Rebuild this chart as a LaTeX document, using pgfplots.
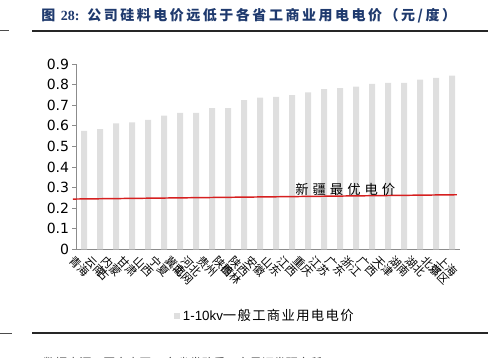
\documentclass[border=0pt]{standalone}
\usepackage{fontspec}
\setmainfont{Liberation Sans}
\newfontfamily\cjk{Noto Sans CJK SC}
\newfontfamily\cjksp{Noto Sans CJK SC}[LetterSpace=10]
\newfontfamily\cjkred{Noto Sans CJK SC}[LetterSpace=30]
\newfontfamily\cjkttl{Noto Sans CJK SC}[LetterSpace=18]
\newfontfamily\serifb{Liberation Serif}
\newfontfamily\dejavu{DejaVu Sans}
\usepackage{pgfplots}
\pgfplotsset{compat=1.18}
\definecolor{bargray}{HTML}{DFDFDF}
\definecolor{axgray}{HTML}{8C8C8C}
\definecolor{ttlblue}{HTML}{1F3A6E}
\definecolor{redline}{HTML}{D62020}
\begin{document}
\begin{tikzpicture}
\path[use as bounding box] (0,0) rectangle (366pt,267.75pt);
\clip (0,0) rectangle (366pt,267.75pt);
\begin{scope}[x=0.75pt,y=-0.75pt,yshift=267.75pt]
  % title
  \node[anchor=west,text=ttlblue,inner sep=0pt] at (41,16)
    {\cjkttl\fontsize{10.5}{12}\selectfont\bfseries 图 {\serifb\bfseries 28:} 公司硅料电价远低于各省工商业用电电价（元/度）};
  \draw[line width=1.5pt,black!85] (32,31) -- (488,31);
  \draw[line width=0.6pt,black!70] (0,30.5) -- (9,30.5);
  \draw[line width=1.5pt,black!85] (32,333) -- (488,333);
  \draw[line width=0.6pt,black!70] (0,333) -- (12,333);
  \node[anchor=north west,inner sep=0pt,text=black!75] at (43,357.5)
    {\cjk\fontsize{9}{11}\selectfont 数据来源：国家电网， 各省发改委，东吴证券研究所};
\end{scope}
\begin{axis}[
  at={(57pt,80.775pt)}, anchor=south west,
  scale only axis, width=288pt, height=139pt,
  xmin=0.5, xmax=24.5, ymin=0, ymax=0.9,
  clip=false,
  axis x line*=bottom, axis y line*=left,
  axis line style={axgray,line width=0.6pt,-},
  every tick/.style={axgray,line width=0.6pt},
  tick align=outside,
  ytick={0,0.1,0.2,0.3,0.4,0.5,0.6,0.7,0.8,0.9},
  yticklabel style={/pgf/number format/fixed,/pgf/number format/precision=1,font=\dejavu\fontsize{10.5}{12}\selectfont,inner sep=2pt},
  /pgf/number format/assume math mode=true,
  major tick length=3pt, minor tick length=3pt,
  xtick={1,...,24},
  x tick style={draw=none},
  minor xtick={0.5,1.5,...,24.5},
  xticklabels={青海,云南,内蒙\\古,甘肃,山西,宁夏,冀北,河北\\南网,贵州,陕西,陕西\\榆林,安徽,山东,江西,重庆,江苏,广东,浙江,广西,天津,湖南,湖北,北京,上海\\郊区},
  xticklabel style={rotate=-45,anchor=north west,align=center,font=\cjk\fontsize{8.5}{9}\selectfont,inner sep=0pt,xshift=-4pt,yshift=-5pt},
  legend style={at={(0.492,-0.36)},anchor=center,draw=none,fill=none,font=\cjksp\fontsize{10}{12}\selectfont,inner sep=0pt},
  legend image code/.code={\fill[#1] (0pt,-2.5pt) rectangle (5pt,2.5pt);},
  legend cell align=left,
]
\addplot[ybar,bar width=4.5pt,fill=bargray,draw=none] coordinates {
(1,0.575) (2,0.584) (3,0.612) (4,0.617) (5,0.628) (6,0.649) (7,0.662) (8,0.662)
(9,0.685) (10,0.685) (11,0.725) (12,0.736) (13,0.740) (14,0.749) (15,0.762) (16,0.778)
(17,0.783) (18,0.790) (19,0.803) (20,0.808) (21,0.808) (22,0.824) (23,0.833) (24,0.843)};
\addlegendentry{{\fontspec{Liberation Sans}1-10kv}一般工商业用电电价}
\addplot[redline,line width=1.1pt,forget plot] coordinates {(0.31,0.244) (24.31,0.265)};
\node[anchor=base west,inner sep=0pt] at (axis cs:14.19,0.266)
  {\cjkred\fontsize{10}{12}\selectfont 新疆最优电价};
\end{axis}
\end{tikzpicture}
\end{document}
